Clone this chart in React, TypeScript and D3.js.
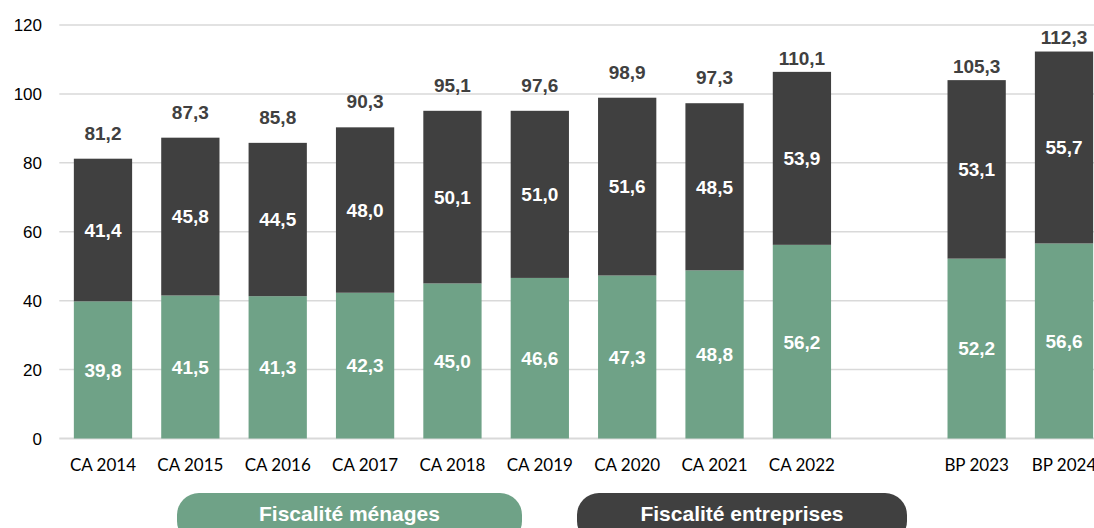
import React from "react";
import * as d3 from "d3";

// Categories (an empty slot separates the CA years from the BP years)
const categories = ["CA 2014", "CA 2015", "CA 2016", "CA 2017", "CA 2018", "CA 2019", "CA 2020", "CA 2021", "CA 2022", "BP 2023", "BP 2024"];
const gapAfter = "CA 2022";

// Printed values (labels)
const menages = [39.8, 41.5, 41.3, 42.3, 45.0, 46.6, 47.3, 48.8, 56.2, 52.2, 56.6];
const entreprises = [41.4, 45.8, 44.5, 48.0, 50.1, 51.0, 51.6, 48.5, 53.9, 53.1, 55.7];
const totals = [81.2, 87.3, 85.8, 90.3, 95.1, 97.6, 98.9, 97.3, 110.1, 105.3, 112.3];

// Heights of the dark segments as drawn in the source picture
// (differ from the printed labels for CA 2019, CA 2022 and BP 2023)
const entreprisesBar = [41.4, 45.8, 44.5, 48.0, 50.1, 48.5, 51.6, 48.5, 50.2, 51.8, 55.7];

const yTicks = [0, 20, 40, 60, 80, 100, 120];
const legendItems = ["Fiscalité ménages", "Fiscalité entreprises"];

const W = 1094;
const H = 528;
const GREEN = "#6FA287";
const DARK = "#404040";
const GRID = "#d9d9d9";
const fmt = (v: number) => v.toFixed(1).replace(".", ",");

export default function App() {
  const domain: string[] = [];
  categories.forEach((c) => {
    domain.push(c);
    if (c === gapAfter) domain.push("__gap__");
  });
  const x = d3.scaleBand<string>().domain(domain).range([59.3, 1107.7]).paddingInner(0.333).paddingOuter(0.1665);
  const y = d3.scaleLinear().domain([0, 120]).range([438.5, 25]);
  const bw = x.bandwidth();

  return (
    <svg width={W} height={H} style={{ position: "fixed", left: 0, top: 0, background: "#fff" }}>
      {yTicks.map((t) => (
        <g key={t}>
          <line x1={59.3} x2={W} y1={y(t)} y2={y(t)} stroke={GRID} strokeWidth={t === 0 ? 2.2 : 1.5} />
          <text x={42} y={y(t)} dy="0.36em" textAnchor="end" fontFamily="Liberation Sans, Arial, sans-serif" fontSize={17} fill="#000">
            {t}
          </text>
        </g>
      ))}
      {categories.map((c, i) => {
        const x0 = x(c) as number;
        const cx = x0 + bw / 2;
        const gTop = y(menages[i]);
        const dTop = y(menages[i] + entreprisesBar[i]);
        const lift = i < 8 ? 26 : 14;
        return (
          <g key={c}>
            <rect x={x0} width={bw} y={gTop} height={y(0) - gTop} fill={GREEN} />
            <rect x={x0} width={bw} y={dTop} height={gTop - dTop} fill={DARK} />
            <text x={cx} y={(gTop + y(0)) / 2} dy="0.36em" textAnchor="middle" fontFamily="Liberation Sans, Arial, sans-serif" fontWeight="bold" fontSize={19} fill="#fff">
              {fmt(menages[i])}
            </text>
            <text x={cx} y={(dTop + gTop) / 2} dy="0.36em" textAnchor="middle" fontFamily="Liberation Sans, Arial, sans-serif" fontWeight="bold" fontSize={19} fill="#fff">
              {fmt(entreprises[i])}
            </text>
            <text x={cx} y={dTop - lift} dy="0.36em" textAnchor="middle" fontFamily="Liberation Sans, Arial, sans-serif" fontWeight="bold" fontSize={19} fill={DARK}>
              {fmt(totals[i])}
            </text>
            <text x={cx} y={470.7} textAnchor="middle" fontFamily="Lato, 'Open Sans', sans-serif" fontSize={17} fill="#000">
              {c}
            </text>
          </g>
        );
      })}
      {legendItems.map((l, i) => {
        const x0 = i === 0 ? 177 : 577;
        const w = i === 0 ? 345 : 330;
        return (
          <g key={l}>
            <rect x={x0} y={493} width={w} height={50} rx={22} fill={i === 0 ? GREEN : DARK} />
            <text x={x0 + w / 2} y={521} textAnchor="middle" fontFamily="Liberation Sans, Arial, sans-serif" fontWeight="bold" fontSize={21} fill="#fff">
              {l}
            </text>
          </g>
        );
      })}
    </svg>
  );
}
